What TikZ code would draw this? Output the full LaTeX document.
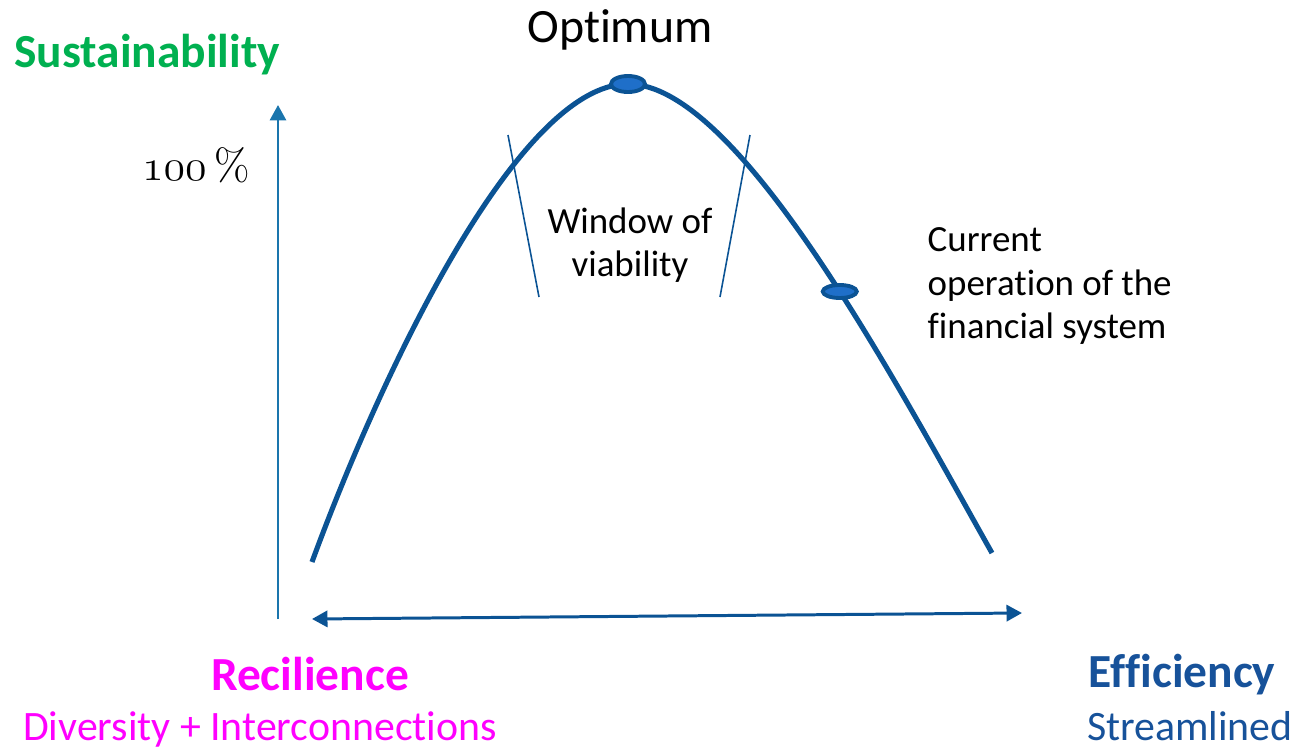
\documentclass[tikz,border=0pt]{standalone}
\usepackage{fontspec}
\setmainfont{Carlito}[Ligatures=NoCommon]
\font\oldnum=cmmi12 at 12.5pt
\font\pctfont=cmr12 at 12.5pt
\usepackage{xcolor}
\usetikzlibrary{positioning, shapes.geometric, arrows.meta}
\definecolor{curveblue}{HTML}{0B5394}
\definecolor{axisblue}{HTML}{1A75AD}
\definecolor{dotblue}{HTML}{1F6FC9}
\definecolor{susgreen}{HTML}{00B050}
\definecolor{recmagenta}{HTML}{FF00FF}
\definecolor{effblue}{HTML}{17529A}

\begin{document}
\begin{tikzpicture}[x=0.01cm, y=-0.01cm]
	\tikzstyle{curve}=[draw=curveblue, line width=1.45pt]
	\tikzstyle{marker}=[ellipse, draw=curveblue, fill=dotblue, line width=1.1pt, inner sep=0pt]
	\tikzstyle{window}=[draw=curveblue, line width=0.45pt]
	\tikzstyle{head}=[font=\bfseries\fontsize{13.5}{16}\selectfont, anchor=base]
	\tikzstyle{sub}=[font=\fontsize{11.9}{14}\selectfont, anchor=base]
	\tikzstyle{note}=[font=\fontsize{10.5}{12.4}\selectfont, inner sep=0pt]
	\useasboundingbox (0,0) rectangle (1299,748);
	% axes
	\coordinate (yfoot) at (278,619);
	\coordinate (ytop) at (278,105);
	\coordinate (xleft) at (312,619);
	\coordinate (xright) at (1022,613);
	\draw[-{Triangle[length=4.4pt, width=4.6pt]}, axisblue, line width=0.75pt] (yfoot) -- (ytop);
	\draw[{Triangle[length=4.4pt, width=4.6pt]}-{Triangle[length=4.4pt, width=4.6pt]}, curveblue, line width=0.85pt] (xleft) -- (xright);
	% curve
	\coordinate (cl) at (312,562);
	\coordinate (ct) at (628,84);
	\coordinate (cr) at (992,553);
	\draw[curve] (cl) .. controls (381,374) and (518,84) .. (ct)
		node[marker, minimum width=0.34cm, minimum height=0.16cm] (peak) {}
		.. controls (738,84) and (894,379) .. (cr)
		node[marker, minimum width=0.34cm, minimum height=0.13cm, pos=0.565] (now) {};
	% window of viability
	\coordinate (wl1) at (508,135);
	\coordinate (wl2) at (539,297);
	\coordinate (wr1) at (750,135);
	\coordinate (wr2) at (720,297);
	\draw[window] (wl1) -- (wl2);
	\draw[window] (wr1) -- (wr2);
	\node[note, align=center] (win) at (630,245) {Window of\\viability};
	% labels
	\node[anchor=base, font=\fontsize{13.6}{16}\selectfont] (opt) at (620,42) {Optimum};
	\node[head, text=susgreen] (sus) at (147,67) {Sustainability};
	\node[anchor=base] (pct) at (196,180) {\oldnum 100\,\pctfont\%};
	\node[note, align=left, anchor=west] (cur) at (927,286) {Current\\operation of the\\financial system};
	\node[head, text=recmagenta] (rec) at (310,690) {Recilience};
	\node[sub, text=recmagenta] (div) at (260,740) {Diversity + Interconnections};
	\node[head, text=effblue] (eff) at (1182,687) {Efficiency};
	\node[sub, text=effblue] (str) at (1190,740) {Streamlined};
\end{tikzpicture}
\end{document}
